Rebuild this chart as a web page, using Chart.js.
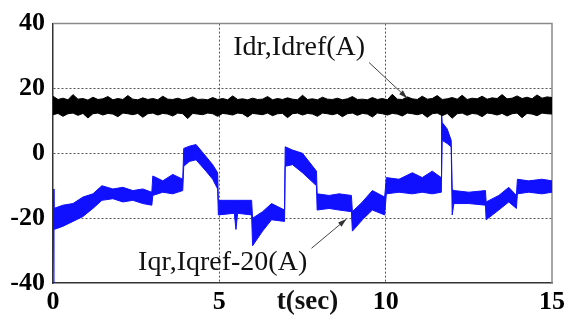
<!DOCTYPE html>
<html>
<head>
<meta charset="utf-8">
<script src="https://cdn.jsdelivr.net/npm/chart.js@4"></script>
<style>
  body { margin: 0; background: #fff; }
</style>
</head>
<body>
<canvas id="plot" width="569" height="320"></canvas>
<script>
// Idr, Idref envelope (black band)
var idrT = [0, 0.15, 0.3, 0.45, 0.6, 0.75, 0.9, 1.05, 1.2, 1.35,
  1.5, 1.65, 1.8, 1.95, 2.1, 2.25, 2.4, 2.55, 2.7, 2.85,
  3, 3.15, 3.3, 3.45, 3.6, 3.75, 3.9, 4.05, 4.2, 4.35,
  4.5, 4.65, 4.8, 4.95, 5.1, 5.25, 5.4, 5.55, 5.7, 5.85,
  6, 6.15, 6.3, 6.45, 6.6, 6.75, 6.9, 7.05, 7.2, 7.35,
  7.5, 7.65, 7.8, 7.95, 8.1, 8.25, 8.4, 8.55, 8.7, 8.85,
  9, 9.15, 9.3, 9.45, 9.6, 9.75, 9.9, 10.05, 10.2, 10.35,
  10.5, 10.65, 10.8, 10.95, 11.1, 11.25, 11.4, 11.55, 11.7, 11.85,
  12, 12.15, 12.3, 12.45, 12.6, 12.75, 12.9, 13.05, 13.2, 13.35,
  13.5, 13.65, 13.8, 13.95, 14.1, 14.25, 14.4, 14.55, 14.7, 14.85,
  15];
var idrHi = [17.6, 16.6, 17.0, 16.5, 18.1, 16.7, 16.9, 16.4, 17.3, 16.6,
  16.8, 17.5, 16.5, 16.9, 16.6, 17.8, 16.7, 16.5, 17.1, 16.6,
  16.9, 16.5, 17.6, 16.7, 16.6, 17.0, 16.5, 16.8, 17.4, 16.6,
  16.7, 16.5, 17.2, 16.6, 16.9, 16.5, 17.7, 16.6, 16.8, 16.5,
  17.0, 16.6, 16.7, 17.5, 16.5, 16.9, 16.6, 17.1, 16.7, 16.5,
  17.9, 16.6, 16.8, 16.5, 17.3, 16.7, 16.6, 17.0, 16.5, 16.8,
  17.5, 16.6, 16.7, 16.5, 17.2, 16.6, 16.9, 16.5, 18.2, 16.7,
  16.6, 17.4, 16.8, 16.6, 17.6, 16.7, 16.9, 17.8, 16.6, 16.8,
  17.2, 16.7, 17.9, 16.6, 17.0, 16.8, 17.6, 16.7, 17.1, 16.9,
  18.1, 16.8, 17.0, 17.7, 16.9, 17.3, 16.8, 18.0, 17.0, 17.4,
  17.2];
var idrLo = [11.9, 12.3, 11.4, 12.2, 12.4, 11.7, 12.3, 10.9, 12.2, 12.4,
  11.8, 12.3, 12.1, 11.3, 12.4, 12.2, 11.9, 12.3, 11.1, 12.2,
  12.4, 11.8, 12.3, 12.1, 11.5, 12.4, 12.2, 10.7, 12.3, 12.1,
  11.9, 12.4, 12.2, 11.4, 12.3, 12.1, 11.8, 12.4, 12.2, 11.2,
  12.3, 12.1, 11.9, 12.4, 11.6, 12.2, 12.3, 11.0, 12.2, 12.4,
  11.8, 12.3, 12.1, 11.4, 12.4, 12.2, 11.9, 12.3, 11.3, 12.2,
  12.4, 11.7, 12.3, 12.1, 11.2, 12.4, 12.2, 11.8, 12.3, 12.1,
  11.5, 12.4, 12.2, 11.9, 12.3, 11.1, 12.2, 12.4, 11.6, 12.3,
  10.8, 12.2, 12.4, 11.7, 12.3, 12.1, 11.3, 12.4, 12.2, 11.8,
  12.3, 11.5, 12.2, 12.4, 11.0, 12.3, 12.1, 11.6, 12.4, 12.2,
  12.1];

// Iqr, Iqref-20 envelope (blue band)
var iqrT = [0, 0.03, 0.3, 0.6, 0.9, 1.2, 1.47, 1.8, 2.1, 2.4,
  2.7, 2.97, 3.0, 3.3, 3.6, 3.9, 3.93, 4.1, 4.3, 4.6,
  4.8, 4.95, 4.97, 5.45, 5.5, 5.55, 5.97, 6.0, 6.3, 6.57,
  6.96, 6.98, 7.2, 7.5, 7.92, 7.94, 8.3, 8.6, 8.97, 9.0,
  9.3, 9.6, 9.97, 10.02, 10.4, 10.8, 11.1, 11.4, 11.67, 11.68,
  11.7, 11.85, 11.97, 12.0, 12.05, 12.5, 13.0, 13.02, 13.4, 13.7,
  13.93, 13.96, 14.3, 14.7, 15];
var iqrHi = [-11, -17, -16, -15.5, -13.5, -12.5, -10, -11, -10.5, -11.5,
  -11, -12, -7, -8.5, -6.5, -8, 1.5, 2.2, 2.7, -1,
  -3.5, -6, -14.5, -14.5, -14.5, -14.5, -14.5, -20, -18, -15.5,
  -17.5, 2, 1, 0, -5.5, -12.5, -13, -12.5, -13, -18,
  -15, -11.5, -13.5, -7.5, -8, -6, -7.5, -5.5, -7.5, 12.5,
  9.5, 7.5, 4, -11, -11.5, -12, -11.5, -15, -13, -10.5,
  -13, -8, -8.5, -8, -8.5];
var iqrLo = [-40, -23.5, -22.5, -21, -19.5, -17, -14.5, -14, -15, -14.5,
  -15.5, -16, -13, -12, -12.5, -11.5, -4, -2.5, -2, -5.5,
  -8, -11, -19, -18.5, -23.5, -18.5, -19, -28.5, -24, -20.5,
  -21, -4, -3.5, -6, -10, -17.5, -17, -17.5, -18, -24,
  -20.5, -17.5, -19, -12.5, -12, -12.5, -12, -12.5, -12, -12,
  4, 3, 2, -19, -15.5, -15.5, -16, -20.5, -17.5, -15,
  -17, -12.5, -12, -12.5, -12];

var xTicks = [0, 5, 10, 15];
var yTicks = [-40, -20, 0, 20, 40];

function pts(t, v) {
    return t.map(function (tt, i) { return { x: tt, y: v[i] }; });
}

var serif = '"Liberation Serif", "Times New Roman", serif';

// small helper for the annotation arrows
function arrow(ctx, x1, y1, x2, y2) {
    ctx.beginPath();
    ctx.moveTo(x1, y1);
    ctx.lineTo(x2, y2);
    ctx.stroke();
    var a = Math.atan2(y2 - y1, x2 - x1);
    ctx.beginPath();
    ctx.moveTo(x2, y2);
    ctx.lineTo(x2 - 9 * Math.cos(a - 0.3), y2 - 9 * Math.sin(a - 0.3));
    ctx.lineTo(x2 - 9 * Math.cos(a + 0.3), y2 - 9 * Math.sin(a + 0.3));
    ctx.closePath();
    ctx.fill();
}

var notes = {
    id: 'notes',
    beforeDatasetsDraw: function (chart) {
        var ctx = chart.ctx, a = chart.chartArea;
        ctx.save();
        ctx.strokeStyle = '#8a8a8a';
        ctx.lineWidth = 1.5;
        ctx.beginPath();
        ctx.moveTo(a.left, a.top);
        ctx.lineTo(a.right, a.top);
        ctx.lineTo(a.right, a.bottom);
        ctx.stroke();
        ctx.restore();
    },
    afterDraw: function (chart) {
        var ctx = chart.ctx, x = chart.scales.x, y = chart.scales.y;
        ctx.save();
        ctx.fillStyle = '#111';
        ctx.textAlign = 'center';
        ctx.textBaseline = 'middle';
        ctx.font = '28px ' + serif;
        ctx.fillText('Idr,Idref(A)', x.getPixelForValue(7.4), y.getPixelForValue(32.5));
        ctx.fillText('Iqr,Iqref-20(A)', x.getPixelForValue(5.1), y.getPixelForValue(-33.7));
        ctx.font = 'bold 27px ' + serif;
        ctx.fillText('t(sec)', x.getPixelForValue(7.65), chart.chartArea.bottom + 19);

        ctx.strokeStyle = '#444';
        ctx.fillStyle = '#333';
        ctx.lineWidth = 1;
        arrow(ctx, x.getPixelForValue(9.5), y.getPixelForValue(28), x.getPixelForValue(10.65), y.getPixelForValue(17));
        arrow(ctx, x.getPixelForValue(7.77), y.getPixelForValue(-29.3), x.getPixelForValue(8.82), y.getPixelForValue(-20.3));
        ctx.restore();
    }
};

function gridColor(list) {
    return function (c) {
        var v = c.tick ? c.tick.value : null;
        return (v === list[0] || v === list[list.length - 1]) ? 'rgba(0,0,0,0)' : '#555';
    };
}

var ctx = document.getElementById('plot').getContext('2d');
window.chartInstance = new Chart(ctx, {
    type: 'line',
    data: {
        datasets: [{
            data: pts(idrT, idrLo),
            borderColor: '#000',
            backgroundColor: '#000',
            fill: false
        }, {
            data: pts(idrT, idrHi),
            borderColor: '#000',
            backgroundColor: '#000',
            fill: '-1'
        }, {
            data: pts(iqrT, iqrLo),
            borderColor: '#1010ff',
            backgroundColor: '#1010ff',
            fill: false
        }, {
            data: pts(iqrT, iqrHi),
            borderColor: '#1010ff',
            backgroundColor: '#1010ff',
            fill: '-1'
        }]
    },
    options: {
        responsive: false,
        animation: false,
        layout: { padding: { top: 15, right: 16, left: 0, bottom: 0 } },
        elements: {
            point: { radius: 0 },
            line: { borderWidth: 1, tension: 0 }
        },
        plugins: {
            legend: { display: false },
            tooltip: { enabled: false }
        },
        scales: {
            x: {
                type: 'linear',
                min: xTicks[0],
                max: xTicks[xTicks.length - 1],
                afterBuildTicks: function (s) { s.ticks = xTicks.map(function (v) { return { value: v }; }); },
                afterFit: function (s) { s.height = 37; },
                ticks: {
                    color: '#000',
                    padding: 4,
                    maxRotation: 0,
                    font: { family: serif, size: 26, weight: 'bold' }
                },
                grid: { color: gridColor(xTicks), drawTicks: false, lineWidth: 1 },
                border: { display: true, color: '#333', width: 1.5, dash: [2, 2] }
            },
            y: {
                min: yTicks[0],
                max: yTicks[yTicks.length - 1],
                afterBuildTicks: function (s) { s.ticks = yTicks.map(function (v) { return { value: v }; }); },
                afterFit: function (s) { s.width = 53; },
                ticks: {
                    color: '#000',
                    padding: 8,
                    font: { family: serif, size: 26, weight: 'bold' }
                },
                grid: { color: gridColor(yTicks), drawTicks: false, lineWidth: 1 },
                border: { display: true, color: '#333', width: 1.5, dash: [2, 2] }
            }
        }
    },
    plugins: [notes]
});
</script>
</body>
</html>
